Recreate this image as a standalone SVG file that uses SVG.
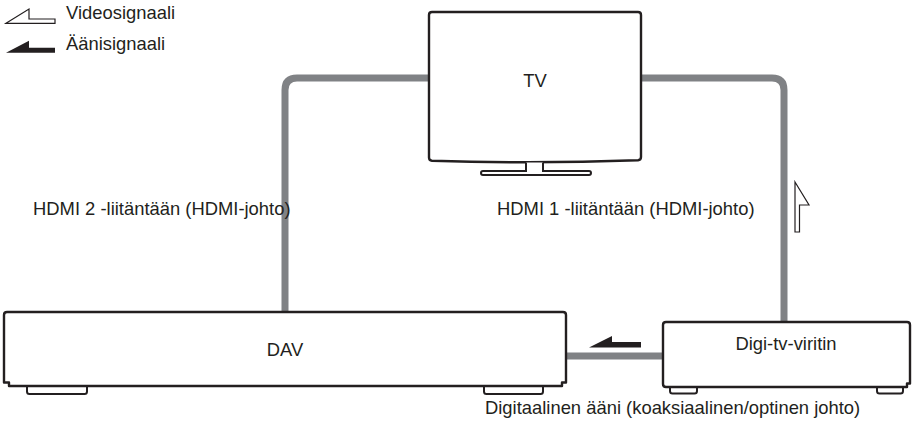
<svg xmlns="http://www.w3.org/2000/svg" width="914" height="427" viewBox="0 0 914 427">
<style>
.box{fill:#fff;stroke:#231f20;stroke-width:2.4;stroke-linejoin:round}
.foot{fill:#fff;stroke:#231f20;stroke-width:2}
.cable{fill:none;stroke:#808285;stroke-width:7}
.t{font-family:"Liberation Sans",Arial,sans-serif;font-size:18.4px;fill:#231f20}
.ao{fill:#fff;stroke:#231f20;stroke-width:1.2;stroke-linejoin:miter}
.af{fill:#231f20}
</style>
<rect width="914" height="427" fill="#fff"/>
<g id="legend">
<polygon class="ao" points="6,23.3 29,9 29,19 55,19 55,23.3"/>
<text class="t" x="66" y="19">Videosignaali</text>
<polygon class="af" points="6,52.7 29,40.7 29,47.7 55,47.7 55,52.7"/>
<text class="t" x="66" y="50">Äänisignaali</text>
</g>
<g id="connectors">
<path class="cable" d="M429,78 H297 Q285,78 285,90 V313"/>
<path class="cable" d="M641,78 H772 Q784,78 784,90 V323"/>
<path class="cable" d="M566,356 H664"/>
<polygon class="af" points="589,347.5 612,336 612,342 641,342 641,347.5"/>
<polygon class="ao" points="795,182 809,205 799.5,205 799.5,232 795,232"/>
<text class="t" x="33" y="215">HDMI 2 -liitäntään (HDMI-johto)</text>
<text class="t" x="497" y="215">HDMI 1 -liitäntään (HDMI-johto)</text>
<text class="t" x="485" y="414">Digitaalinen ääni (koaksiaalinen/optinen johto)</text>
</g>
<g id="tv">
<path class="box" d="M432,12 H638 Q641,12 641,15 V157 Q641,160 638,160.3 Q535,164 432,160.8 Q429,160.5 429,157.5 V15 Q429,12 432,12 Z"/>
<path fill="#fff" stroke="#231f20" stroke-width="2" d="M526,162.5 V171 H483 A2,2 0 0 0 483,175 H589 A2,2 0 0 0 589,171 H543 V162.5"/>
<text class="t" x="535" y="87" text-anchor="middle">TV</text>
</g>
<g id="dav">
<rect class="foot" x="27" y="383" width="60" height="11" rx="2.5"/>
<rect class="foot" x="484" y="383" width="59" height="11" rx="2.5"/>
<path class="box" d="M7,312 H563 Q566,312 566,315 V382.5 H562 V386 H9 V382.5 H4 V315 Q4,312 7,312 Z"/>
<text class="t" x="285" y="356" text-anchor="middle">DAV</text>
</g>
<g id="digi">
<rect class="foot" x="670" y="384" width="27" height="9.5" rx="2.5"/>
<rect class="foot" x="877" y="384" width="26" height="9.5" rx="2.5"/>
<path class="box" d="M666,322 H907 Q910,322 910,325 V383.5 H907 V387 H666 Q663,387 663,384 V325 Q663,322 666,322 Z"/>
<text class="t" x="786" y="350" text-anchor="middle">Digi-tv-viritin</text>
</g>
</svg>
